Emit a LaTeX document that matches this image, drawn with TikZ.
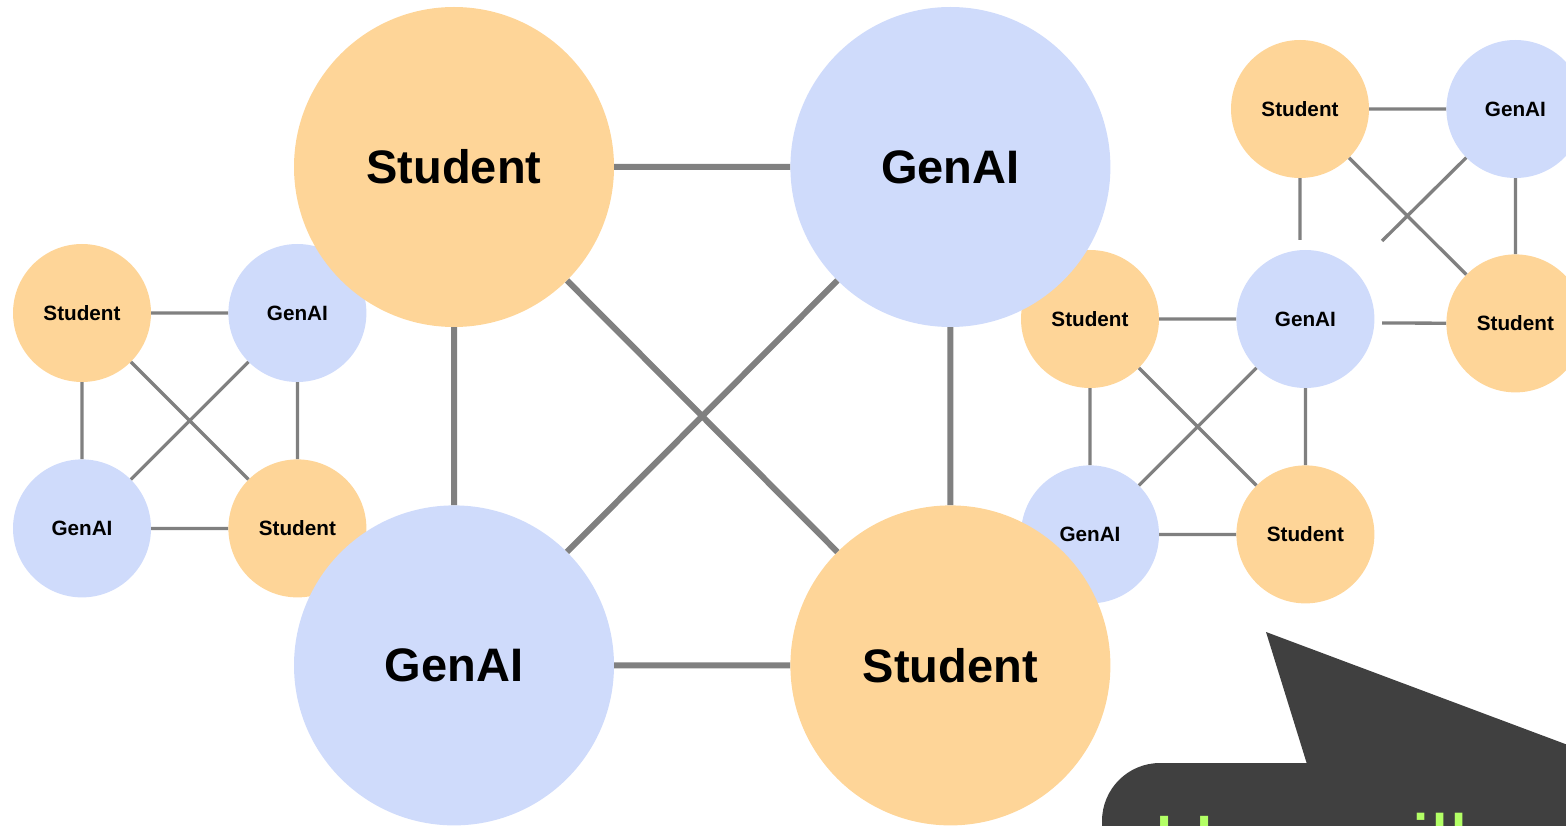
\documentclass[tikz,border=0pt]{standalone}
\usepackage{fontspec}
\setmainfont{Liberation Sans}
\usetikzlibrary{positioning}
\definecolor{sOrange}{RGB}{254,213,152}
\definecolor{gBlue}{RGB}{207,219,251}
\definecolor{eGray}{RGB}{128,128,128}
\definecolor{bubDark}{RGB}{64,64,64}
\definecolor{askGreen}{RGB}{179,255,102}
\tikzset{
  agent/.style={circle, inner sep=0pt, align=center, text=black},
  bigagent/.style={agent, minimum size=320pt,
                   font=\fontsize{47}{56}\selectfont\bfseries},
  smallagent/.style={agent, minimum size=138pt,
                     font=\fontsize{20.7}{25}\selectfont\bfseries},
  stud/.style={fill=sOrange},
  gen/.style={fill=gBlue},
  blink/.style={draw=eGray, line width=6pt},
  slink/.style={draw=eGray, line width=3.3pt},
  bubble/.style={fill=bubDark},
}
\newcommand{\AgentQuad}[3]{%
  \node[smallagent,stud] (#1s) at (#2,#3) {Student};
  \node[smallagent,gen,right=77pt of #1s] (#1g) {GenAI};
  \node[smallagent,gen,below=77pt of #1s] (#1h) {GenAI};
  \node[smallagent,stud,below=77pt of #1g] (#1t) {Student};
  \draw[slink] (#1s) -- (#1g) (#1s) -- (#1h) (#1g) -- (#1t) (#1h) -- (#1t)
               (#1s) -- (#1t) (#1g) -- (#1h);}
\begin{document}
\begin{tikzpicture}[x=1pt, y=-1pt]
  \useasboundingbox (0,0) rectangle (1566,826);

  % top right group, partly hidden
  \node[smallagent,stud] (trS) at (1300,109) {Student};
  \node[smallagent,gen,right=77pt of trS] (trG) {GenAI};
  \node[smallagent,stud,below=76pt of trG] (trT) {Student};
  \coordinate (trcutA) at (1300,240);
  \coordinate (trcutB) at (1382,241);
  \coordinate (trcutC) at (1382,323);
  \draw[slink] (trS) -- (trG) (trG) -- (trT) (trS) -- (trT)
               (trS) -- (trcutA) (trG) -- (trcutB) (trcutC) -- (trT);

  % small groups
  \AgentQuad{mr}{1090}{319}
  \AgentQuad{lf}{82}{313}

  % main group
  \node[bigagent,stud] (bigS) at (454,167) {Student};
  \node[bigagent,gen,right=176pt of bigS] (bigG) {GenAI};
  \node[bigagent,gen,below=178pt of bigS] (bigH) {GenAI};
  \node[bigagent,stud,below=178pt of bigG] (bigT) {Student};
  \draw[blink] (bigS) -- (bigG) (bigS) -- (bigH) (bigG) -- (bigT) (bigH) -- (bigT)
               (bigS) -- (bigT) (bigG) -- (bigH);

  % speech bubble
  \fill[bubble, rounded corners=58pt] (1102,763) rectangle (1640,900);
  \fill[bubble] (1266,632) -- (1640,772) -- (1640,790) -- (1315,790) -- cycle;
  \node[font=\fontsize{86}{100}\selectfont, text=askGreen, anchor=base west,
        inner sep=0pt] (ask) at (1153,875) {How will};
\end{tikzpicture}
\end{document}
